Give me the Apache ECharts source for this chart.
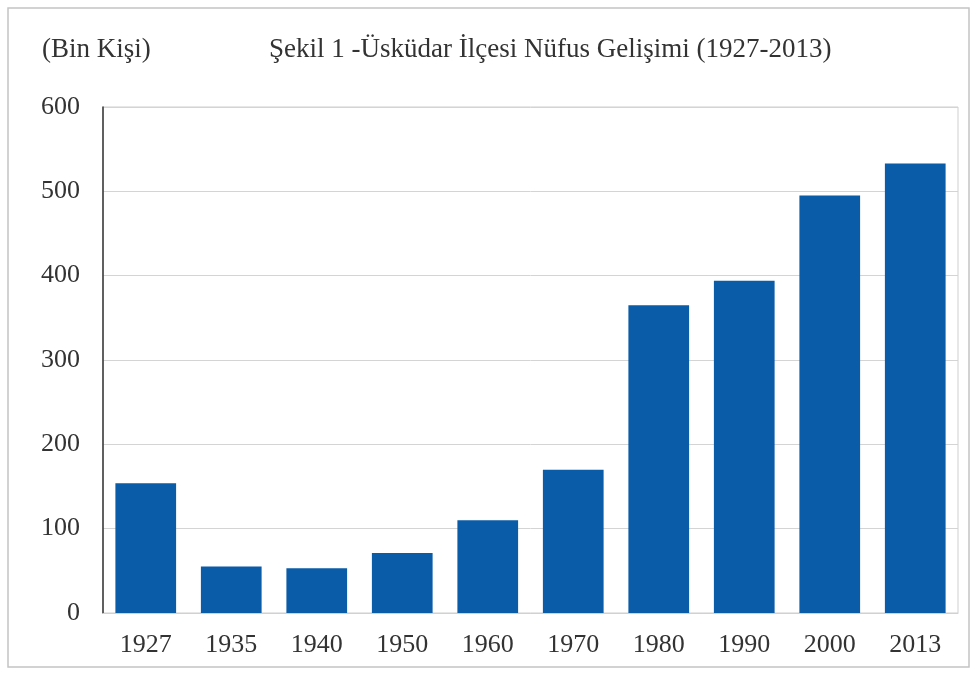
<!DOCTYPE html>
<html>
<head>
<meta charset="utf-8">
<script src="https://cdn.jsdelivr.net/npm/echarts@6/dist/echarts.min.js"></script>
<style>
  html, body { margin: 0; padding: 0; background: #fff; }
  #chart { width: 976px; height: 673px; }
</style>
</head>
<body>
<div id="chart"></div>
<script>
// Üsküdar nüfusu (bin kişi)
const years = ['1927', '1935', '1940', '1950', '1960', '1970', '1980', '1990', '2000', '2013'];
const population = [154, 55, 53, 71, 110, 170, 365, 394, 495, 533];

const serif = '"Liberation Serif", "DejaVu Serif", serif';
const chart = echarts.init(document.getElementById('chart'));

chart.setOption({
  backgroundColor: '#fff',
  animation: false,
  graphic: [{
    type: 'rect',
    shape: { x: 8, y: 8, width: 961, height: 659 },
    style: { fill: 'none', stroke: '#c4c4c4', lineWidth: 1.5 },
    silent: true
  }],
  title: [
    {
      text: 'Şekil 1 -Üsküdar İlçesi Nüfus Gelişimi (1927-2013)',
      left: 264, top: 31,
      textStyle: { fontFamily: serif, fontSize: 27, fontWeight: 'normal', color: '#333' }
    },
    {
      text: '(Bin Kişi)',
      left: 37, top: 31,
      textStyle: { fontFamily: serif, fontSize: 27, fontWeight: 'normal', color: '#333' }
    }
  ],
  grid: {
    left: 103, right: 18, top: 107, bottom: 60,
    show: true, borderColor: '#cfcfcf', borderWidth: 1
  },
  xAxis: {
    type: 'category',
    data: years,
    axisLine: { lineStyle: { color: '#d8cfc8', width: 1 } },
    axisTick: { show: false },
    axisLabel: { fontFamily: serif, fontSize: 26, color: '#333', margin: 19 }
  },
  yAxis: {
    type: 'value',
    min: 0, max: 600, interval: 100,
    axisLine: { show: true, lineStyle: { color: '#333', width: 1.5 } },
    axisTick: { show: false },
    splitLine: { lineStyle: { color: '#d4d4d4', width: 1 } },
    axisLabel: { fontFamily: serif, fontSize: 26, color: '#333', margin: 23 }
  },
  series: [{
    type: 'bar',
    data: population,
    barCategoryGap: '29%',
    itemStyle: { color: '#0a5ba8' }
  }]
});
</script>
</body>
</html>
